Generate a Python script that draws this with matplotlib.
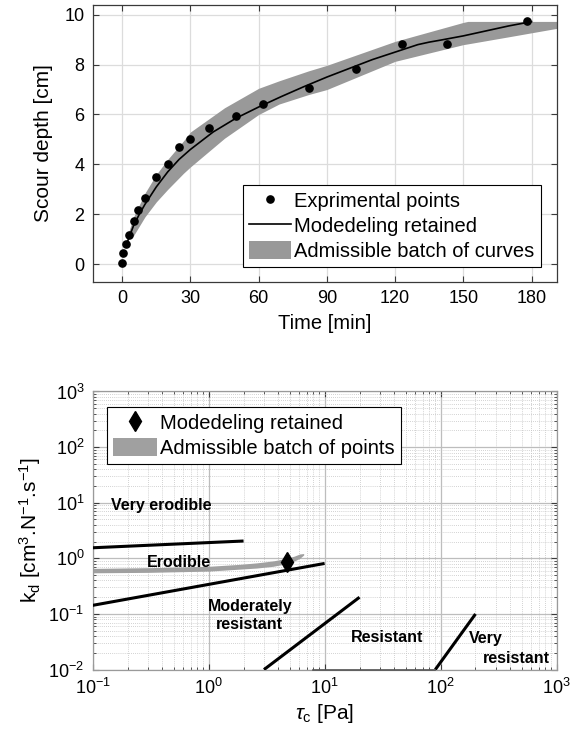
import matplotlib
matplotlib.use("Agg")
import matplotlib.pyplot as plt
from matplotlib.lines import Line2D
from matplotlib.patches import Patch
from matplotlib.ticker import LogLocator, NullFormatter

plt.rcParams['font.family'] = ['Liberation Sans', 'DejaVu Sans']
plt.rcParams['mathtext.fontset'] = 'custom'
plt.rcParams['mathtext.rm'] = 'Liberation Sans'
plt.rcParams['mathtext.it'] = 'Liberation Sans:italic'
plt.rcParams['mathtext.bf'] = 'Liberation Sans:bold'

# ---------------- data: top panel ----------------
exp_time = [0, 0.5, 1.5, 3, 5, 7, 10, 15, 20, 25, 30, 38, 50, 62, 82, 103, 123, 143, 178]
exp_depth = [0.03, 0.45, 0.8, 1.17, 1.74, 2.17, 2.66, 3.48, 4.03, 4.68, 5.01, 5.44, 5.95, 6.43,
             7.06, 7.83, 8.84, 8.84, 9.73]

model_time = [2.5, 5, 7.5, 10, 15, 20, 25, 30, 40, 50, 60, 70, 80, 90, 100, 110, 120, 130, 135,
              140, 150, 160, 170, 180]
model_depth = [0.95, 1.55, 2.0, 2.4, 3.1, 3.7, 4.2, 4.6, 5.3, 5.85, 6.3, 6.72, 7.12, 7.5, 7.85,
               8.2, 8.5, 8.8, 8.9, 8.98, 9.15, 9.35, 9.55, 9.72]

band_time = [2.5, 5, 10, 15, 20, 27, 30, 45, 60, 69, 82, 90, 120, 150, 152, 171, 191]
band_upper = [1.2, 1.9, 2.85, 3.6, 4.2, 4.95, 5.3, 6.27, 7.05, 7.35, 7.75, 7.97, 8.93, 9.69, 9.73,
              9.73, 9.73]
band_lower = [1.0, 1.15, 1.9, 2.5, 3.0, 3.65, 3.9, 5.05, 6.0, 6.42, 6.8, 7.0, 8.13, 8.8, 8.83,
              9.13, 9.45]

time_ticks = [0, 30, 60, 90, 120, 150, 180]
depth_ticks = [0, 2, 4, 6, 8, 10]

# ---------------- data: bottom panel ----------------
# category boundary lines (tau_c, k_d)
bound1_tau, bound1_kd = [0.1, 2], [1.55, 2.05]
bound2_tau, bound2_kd = [0.1, 10], [0.143, 0.81]
bound3_tau, bound3_kd = [3, 20], [0.01, 0.2]
bound4_tau, bound4_kd = [90, 200], [0.01, 0.1]
bound5_tau, bound5_kd = [8, 90], [0.01, 0.01]

pts_tau = [0.1, 0.3, 1, 1.85, 2.6, 3.6, 4.7, 5.5, 6.1, 6.6]
pts_kd_high = [0.66, 0.68, 0.72, 0.78, 0.83, 0.9, 1.0, 1.1, 1.2, 1.22]
pts_kd_low = [0.55, 0.56, 0.59, 0.64, 0.67, 0.72, 0.8, 0.9, 1.0, 1.15]

retained_tau = [4.7]
retained_kd = [0.87]

cat_labels = ["Very erodible", "Erodible", "Moderately\nresistant", "Resistant", "Very", "resistant"]
cat_tau = [0.39, 0.553, 2.26, 34.5, 243, 450]
cat_kd = [9.1, 0.858, 0.093, 0.0375, 0.036, 0.0159]

# ---------------- figure ----------------
fig = plt.figure(figsize=(5.72, 7.45), dpi=100)
spine_col = '#3a3a3a'

ax1 = fig.add_axes([0.162, 0.6219, 0.811, 0.3718])
ax1.fill_between(band_time, band_lower, band_upper, color='#999999', lw=0, zorder=2)
ax1.plot(model_time, model_depth, color='black', lw=1.2, zorder=3)
ax1.plot(exp_time, exp_depth, 'o', color='black', ms=5.2, zorder=4)
ax1.set_xlim(-13, 191)
ax1.set_ylim(-0.7, 10.4)
ax1.set_xticks(time_ticks)
ax1.set_yticks(depth_ticks)
ax1.grid(True, color='#dcdcdc', lw=0.9, zorder=0)
ax1.set_axisbelow(True)
ax1.tick_params(direction='in', top=True, right=True, length=4, width=0.8,
                labelsize=13, color=spine_col, pad=6)
for s in ax1.spines.values():
    s.set_color(spine_col)
    s.set_linewidth(0.9)
ax1.set_xlabel('Time [min]', fontsize=14.5, labelpad=5)
ax1.set_ylabel('Scour depth [cm]', fontsize=15, labelpad=8)

h1 = [Line2D([], [], marker='o', ls='none', color='black', ms=5.2),
      Line2D([], [], color='black', lw=1.2),
      Patch(facecolor='#999999', edgecolor='none')]
leg1 = ax1.legend(h1, ['Exprimental points', 'Modedeling retained', 'Admissible batch of curves'],
                  loc='lower right', bbox_to_anchor=(0.966, 0.053), borderaxespad=0,
                  fontsize=14.5, frameon=True, fancybox=False, edgecolor='black',
                  framealpha=1, handlelength=2.1, handleheight=1.0, handletextpad=0.15,
                  labelspacing=0.25, borderpad=0.3)
leg1.get_frame().set_linewidth(0.8)

# bottom panel
ax2 = fig.add_axes([0.162, 0.1012, 0.811, 0.3733])
ax2.set_xscale('log')
ax2.set_yscale('log')
ax2.set_xlim(0.1, 1000)
ax2.set_ylim(0.01, 1000)
ax2.xaxis.set_major_locator(LogLocator(base=10, numticks=10))
ax2.yaxis.set_major_locator(LogLocator(base=10, numticks=10))
ax2.xaxis.set_minor_locator(LogLocator(base=10, subs=range(2, 10), numticks=20))
ax2.yaxis.set_minor_locator(LogLocator(base=10, subs=range(2, 10), numticks=20))
ax2.xaxis.set_minor_formatter(NullFormatter())
ax2.yaxis.set_minor_formatter(NullFormatter())
ax2.grid(True, which='major', color='#bdbdbd', lw=0.9, zorder=0)
ax2.grid(True, which='minor', color='#c4c4c4', lw=0.6, ls=(0, (1, 1.5)), zorder=0)
ax2.set_axisbelow(True)
ax2.tick_params(which='both', direction='in', top=True, right=True, color=spine_col)
ax2.tick_params(which='major', length=4, width=0.8, labelsize=13, pad=6)
ax2.tick_params(which='minor', length=2, width=0.6)
for s in ax2.spines.values():
    s.set_color('#9a9a9a')
    s.set_linewidth(0.9)

ax2.fill_between(pts_tau, pts_kd_low, pts_kd_high, color='#a0a0a0', lw=0, zorder=2)
for bt, bk in [(bound1_tau, bound1_kd), (bound2_tau, bound2_kd),
               (bound3_tau, bound3_kd), (bound4_tau, bound4_kd)]:
    ax2.plot(bt, bk, color='black', lw=2.2, zorder=3, solid_capstyle='butt')
ax2.plot(bound5_tau, bound5_kd, color='#555555', lw=1.2, zorder=3, clip_on=False)
ax2.plot(retained_tau, retained_kd, 'd', color='black', ms=10, zorder=4)

for lab, tx, ky in zip(cat_labels, cat_tau, cat_kd):
    ax2.text(tx, ky, lab, fontsize=11.5, fontweight='bold', ha='center', va='center',
             linespacing=1.25, zorder=5)

ax2.set_xlabel(r'$\tau_\mathrm{c}$ [Pa]', fontsize=15, labelpad=3)
ax2.set_ylabel(r'k$_\mathrm{d}$ [cm$^3$.N$^{-1}$.s$^{-1}$]', fontsize=15, labelpad=4)

h2 = [Line2D([], [], marker='d', ls='none', color='black', ms=10),
      Patch(facecolor='#a0a0a0', edgecolor='none')]
leg2 = ax2.legend(h2, ['Modedeling retained', 'Admissible batch of points'],
                  loc='upper left', bbox_to_anchor=(0.031, 0.945), borderaxespad=0,
                  fontsize=14.5, frameon=True, fancybox=False, edgecolor='black',
                  framealpha=1, handlelength=2.2, handleheight=1.0, handletextpad=0.15,
                  labelspacing=0.25, borderpad=0.3)
leg2.get_frame().set_linewidth(0.8)

fig.savefig('out.png', dpi=100)
